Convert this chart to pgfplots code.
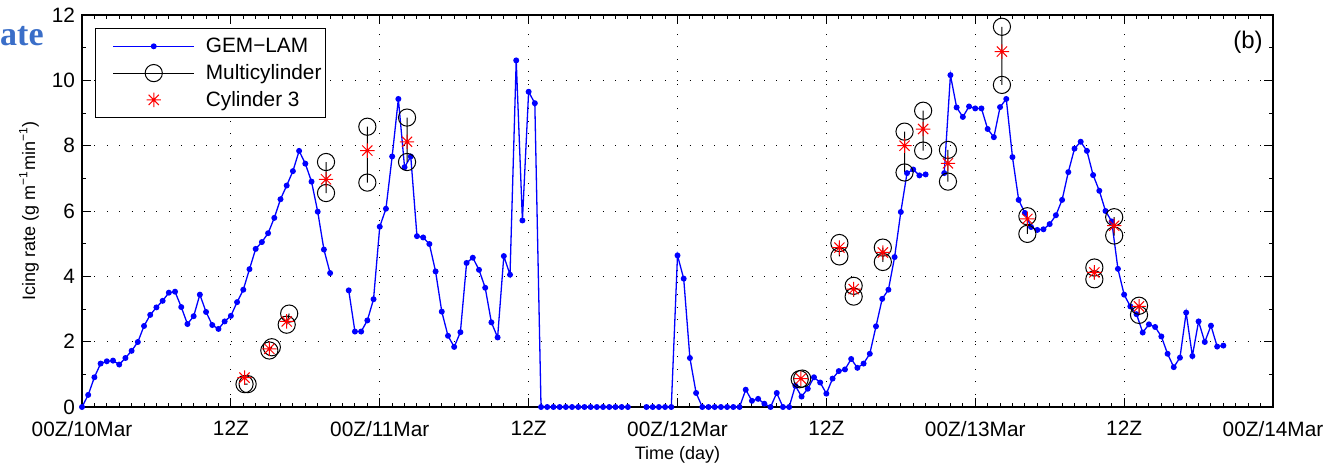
\documentclass[border=0pt]{standalone}
\usepackage{fontspec}
\setmainfont{Liberation Sans}
\newfontfamily\serifb{Liberation Serif}
\usepackage{pgfplots}
\pgfplotsset{compat=1.18}
\usepackage{pgfplotstable}
\definecolor{ateblue}{RGB}{58,110,200}

\pgfdeclareplotmark{ast8}{%
  \pgfpathmoveto{\pgfqpoint{0pt}{\pgfplotmarksize}}\pgfpathlineto{\pgfqpoint{0pt}{-\pgfplotmarksize}}%
  \pgfpathmoveto{\pgfqpoint{\pgfplotmarksize}{0pt}}\pgfpathlineto{\pgfqpoint{-\pgfplotmarksize}{0pt}}%
  \pgfpathmoveto{\pgfqpoint{0.7071\pgfplotmarksize}{0.7071\pgfplotmarksize}}\pgfpathlineto{\pgfqpoint{-0.7071\pgfplotmarksize}{-0.7071\pgfplotmarksize}}%
  \pgfpathmoveto{\pgfqpoint{0.7071\pgfplotmarksize}{-0.7071\pgfplotmarksize}}\pgfpathlineto{\pgfqpoint{-0.7071\pgfplotmarksize}{0.7071\pgfplotmarksize}}%
  \pgfusepathqstroke}

\pgfplotstableread{
t v
0 0
0.5 0.37
1 0.91
1.5 1.33
2 1.40
2.5 1.42
3 1.30
3.5 1.50
4 1.72
4.5 1.99
5 2.48
5.5 2.82
6 3.05
6.5 3.25
7 3.50
7.5 3.53
8 3.06
8.5 2.54
9 2.78
9.5 3.44
10 2.91
10.5 2.51
11 2.39
11.5 2.62
12 2.79
12.5 3.21
13 3.59
13.5 4.22
14 4.84
14.5 5.05
15 5.32
15.5 5.79
16 6.36
16.5 6.78
17 7.22
17.5 7.84
18 7.45
18.5 6.90
19 5.98
19.5 4.82
20 4.10
20.5 nan
21 nan
21.5 3.57
22 2.31
22.5 2.31
23 2.65
23.5 3.30
24 5.52
24.5 6.07
25 7.67
25.5 9.43
26 7.34
26.5 7.67
27 5.23
27.5 5.19
28 4.99
28.5 4.15
29 2.92
29.5 2.18
30 1.84
30.5 2.29
31 4.41
31.5 4.57
32 4.20
32.5 3.65
33 2.59
33.5 2.13
34 4.62
34.5 4.05
35 10.61
35.5 5.71
36 9.65
36.5 9.30
37 0
37.5 0
38 0
38.5 0
39 0
39.5 0
40 0
40.5 0
41 0
41.5 0
42 0
42.5 0
43 0
43.5 0
44 0
44.5 nan
45 nan
45.5 0
46 0
46.5 0
47 0
47.5 0
48 4.64
48.5 3.93
49 1.50
49.5 0.43
50 0
50.5 0
51 0
51.5 0
52 0
52.5 0
53 0
53.5 0.53
54 0.19
54.5 0.25
55 0.10
55.5 0
56 0.43
56.5 0
57 0
57.5 0.65
58 0.32
58.5 0.56
59 0.91
59.5 0.75
60 0.41
60.5 0.87
61 1.10
61.5 1.15
62 1.47
62.5 1.20
63 1.33
63.5 1.63
64 2.47
64.5 3.31
65 3.59
65.5 4.59
66 5.97
66.5 7.16
67 7.27
67.5 7.09
68 7.12
68.5 nan
69 nan
69.5 7.16
70 10.16
70.5 9.17
71 8.88
71.5 9.20
72 9.14
72.5 9.14
73 8.51
73.5 8.26
74 9.18
74.5 9.43
75 7.65
75.5 6.34
76 5.94
76.5 5.51
77 5.42
77.5 5.44
78 5.60
78.5 5.87
79 6.34
79.5 7.19
80 7.91
80.5 8.12
81 7.84
81.5 7.10
82 6.62
82.5 6.00
83 5.68
83.5 4.23
84 3.44
84.5 3.08
85 2.84
85.5 2.28
86 2.53
86.5 2.45
87 2.16
87.5 1.63
88 1.22
88.5 1.51
89 2.89
89.5 1.56
90 2.62
90.5 1.99
91 2.49
91.5 1.85
92 1.88
}\gemlam

\pgfplotstableread{
t v
13.1 0.70
13.35 0.70
nan nan
15.1 1.73
15.3 1.83
nan nan
16.5 2.52
16.7 2.86
nan nan
19.67 7.50
19.67 6.55
nan nan
23.0 8.58
23.0 6.87
nan nan
26.2 8.86
26.2 7.50
nan nan
57.85 0.85
58.05 0.87
nan nan
61.05 5.02
61.05 4.61
nan nan
62.2 3.71
62.2 3.38
nan nan
64.55 4.88
64.55 4.44
nan nan
66.3 8.43
66.3 7.18
nan nan
67.8 9.07
67.8 7.85
nan nan
69.8 7.87
69.8 6.90
nan nan
74.15 11.64
74.15 9.86
nan nan
76.2 5.84
76.2 5.30
nan nan
81.6 4.27
81.6 3.91
nan nan
83.2 5.81
83.2 5.25
nan nan
85.2 3.10
85.2 2.82
}\multicyl

\pgfplotstableread{
t v
13.1 0.90
15.1 1.78
16.5 2.62
19.67 6.97
23.0 7.85
26.2 8.12
57.95 0.87
61.05 4.88
62.2 3.61
64.55 4.73
66.3 8.00
67.8 8.51
69.8 7.46
74.15 10.88
76.2 5.76
81.6 4.12
83.2 5.55
85.2 3.08
}\cylthree

\begin{document}
\begin{tikzpicture}
\begin{axis}[
  name=ax,
  scale only axis, width=595.5pt, height=196pt,
  xmin=0, xmax=96, ymin=0, ymax=12,
  xtick={0,12,...,96},
  xticklabels={00Z/10Mar,12Z,00Z/11Mar,12Z,00Z/12Mar,12Z,00Z/13Mar,12Z,00Z/14Mar},
  minor x tick num=11,
  ytick={0,2,...,12}, minor y tick num=1,
  tick align=inside, tick pos=both,
  major tick length=4.5pt, minor tick length=2pt,
  every tick/.style={black, line width=0.5pt},
  axis line style={black, line width=0.75pt},
  grid=major,
  major grid style={black, line width=0.45pt, dash pattern=on 0.5pt off 5.7pt},
  tick label style={font=\fontsize{10.4}{12}\selectfont},
  xticklabel style={yshift=-3.5pt},
  /pgf/number format/assume math mode=true,
  xlabel={Time (day)},
  ylabel={Icing rate (g m\textsuperscript{−1}min\textsuperscript{−1})},
  label style={font=\fontsize{9}{11}\selectfont},
  xlabel style={at={(axis description cs:0.5,0)}, anchor=base, yshift=-26pt},
  ylabel style={at={(axis description cs:0,0.5)}, anchor=center, rotate=0, yshift=26.5pt},
  unbounded coords=jump,
  legend style={at={(0,1)}, anchor=north west, xshift=6.5pt, yshift=-6.5pt,
    draw=black, line width=0.6pt, inner xsep=0pt, inner ysep=2.15pt,
    column sep=3.3pt, row sep=0pt,
    font=\fontsize{10.4}{12}\selectfont,
    nodes={inner xsep=2.2pt, inner ysep=1.35pt, text height=8.5pt, text depth=2.2pt},
    cells={anchor=west}},
  legend image code/.code={%
    \path (-8.5pt,0pt);
    \draw[mark repeat=2,mark phase=2,#1] plot coordinates {(0pt,0pt) (20.25pt,0pt) (40.5pt,0pt)};},
]
\addplot[blue, line width=0.65pt, mark=*, mark size=1.15pt, mark options={solid, fill=blue, draw=blue}] table[x=t,y=v] {\gemlam};
\addlegendentry{GEM−LAM}
\addplot[black, line width=0.5pt, mark=o, mark size=4.3pt, mark options={solid}] table[x=t,y=v] {\multicyl};
\addlegendentry{Multicylinder}
\addplot[red, line width=0.5pt, only marks, mark=ast8, mark size=3.6pt] table[x=t,y=v] {\cylthree};
\addlegendentry{Cylinder 3}
\end{axis}
\node[anchor=east, inner sep=0pt, font=\fontsize{12}{14}\selectfont] at ([shift={(-5pt,-13.5pt)}]ax.north east) {(b)};
\node[anchor=base east, inner sep=0pt, text=ateblue, font=\serifb\bfseries\fontsize{17}{20}\selectfont] at ([shift={(-19pt,-15pt)}]ax.north west) {ate};
\pgfresetboundingbox
\path[use as bounding box] ([shift={(-41pt,-30pt)}]ax.south west) rectangle ([shift={(27.5pt,7.5pt)}]ax.north east);
\end{tikzpicture}
\end{document}
